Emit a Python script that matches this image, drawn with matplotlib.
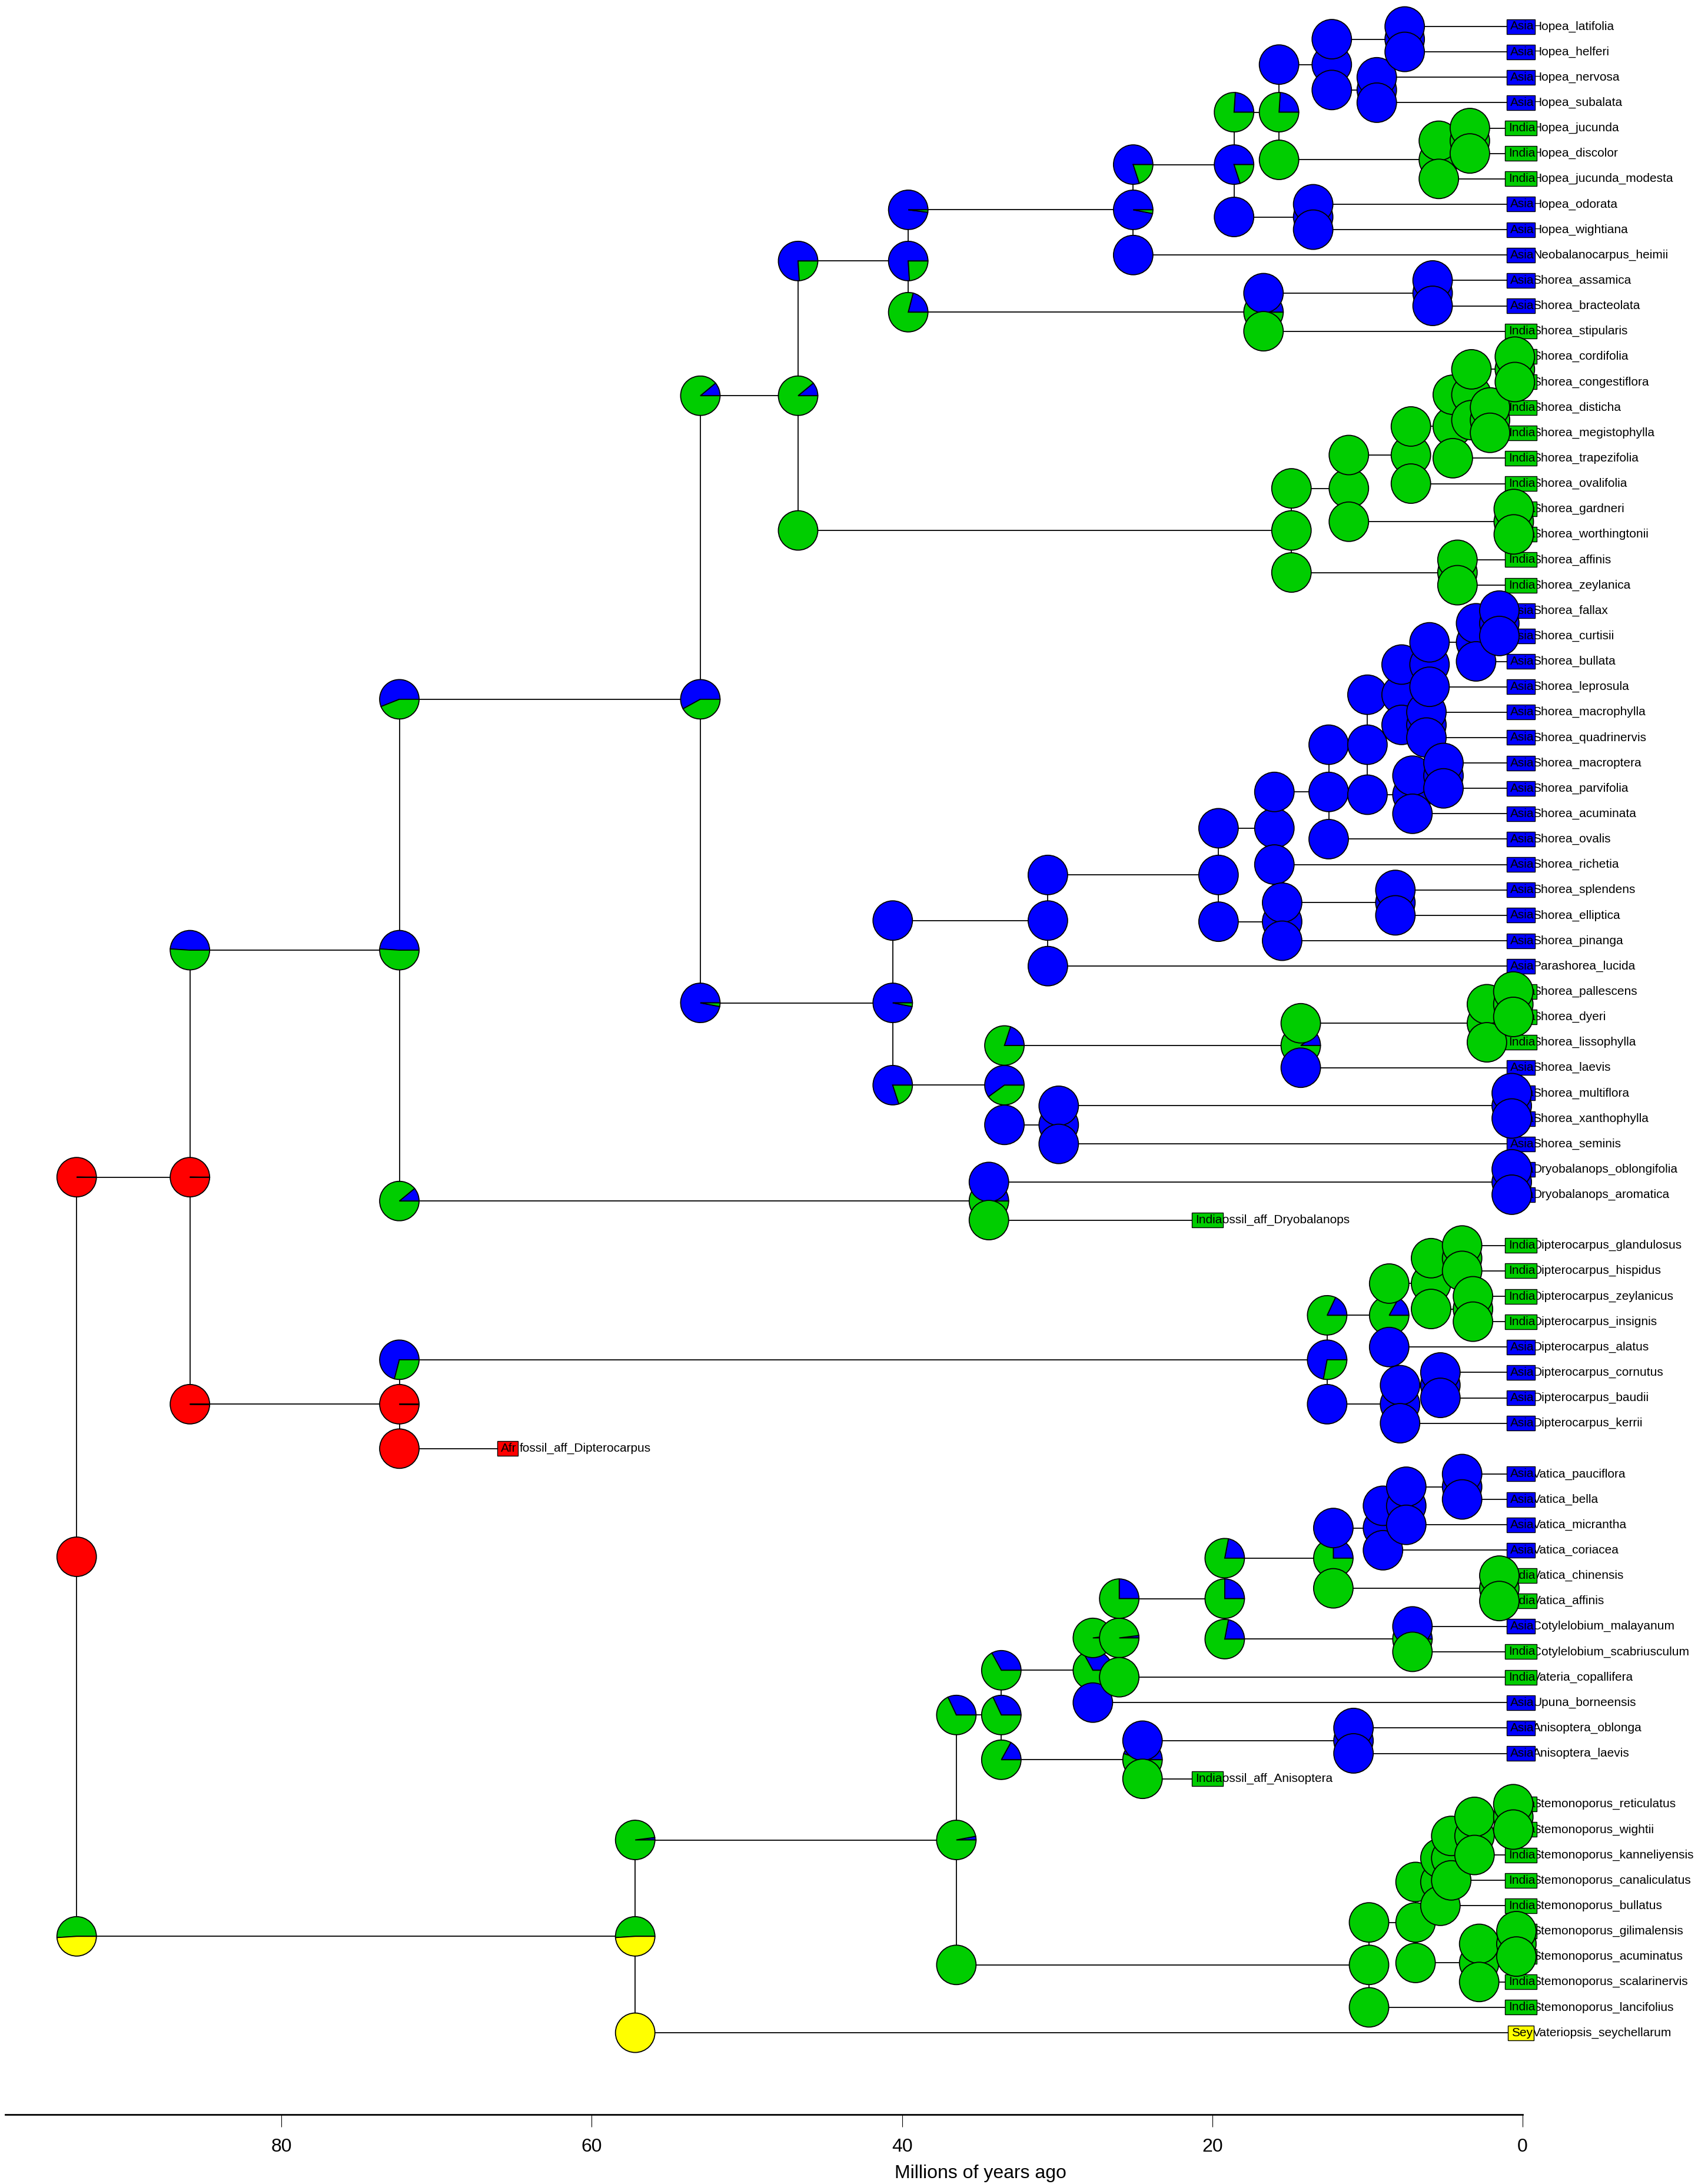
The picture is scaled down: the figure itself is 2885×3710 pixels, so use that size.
import matplotlib
matplotlib.use("Agg")
import matplotlib.pyplot as plt
from matplotlib.patches import Wedge, Circle, Rectangle
from matplotlib.transforms import ScaledTranslation, offset_copy

plt.rcParams["font.family"] = ["Liberation Sans", "DejaVu Sans"]

# areas, in the slice order used by the pies
areas = ["Afr", "Asia", "India", "Sey"]
area_colors = ["#FF0000", "#0000FF", "#00CD00", "#FFFF00"]

# tips from top to bottom
tip_names = [
    "Hopea_latifolia", "Hopea_helferi", "Hopea_nervosa", "Hopea_subalata",
    "Hopea_jucunda", "Hopea_discolor", "Hopea_jucunda_modesta", "Hopea_odorata",
    "Hopea_wightiana", "Neobalanocarpus_heimii", "Shorea_assamica", "Shorea_bracteolata",
    "Shorea_stipularis", "Shorea_cordifolia", "Shorea_congestiflora", "Shorea_disticha",
    "Shorea_megistophylla", "Shorea_trapezifolia", "Shorea_ovalifolia", "Shorea_gardneri",
    "Shorea_worthingtonii", "Shorea_affinis", "Shorea_zeylanica", "Shorea_fallax",
    "Shorea_curtisii", "Shorea_bullata", "Shorea_leprosula", "Shorea_macrophylla",
    "Shorea_quadrinervis", "Shorea_macroptera", "Shorea_parvifolia", "Shorea_acuminata",
    "Shorea_ovalis", "Shorea_richetia", "Shorea_splendens", "Shorea_elliptica",
    "Shorea_pinanga", "Parashorea_lucida", "Shorea_pallescens", "Shorea_dyeri",
    "Shorea_lissophylla", "Shorea_laevis", "Shorea_multiflora", "Shorea_xanthophylla",
    "Shorea_seminis", "Dryobalanops_oblongifolia", "Dryobalanops_aromatica", "fossil_aff_Dryobalanops",
    "Dipterocarpus_glandulosus", "Dipterocarpus_hispidus", "Dipterocarpus_zeylanicus", "Dipterocarpus_insignis",
    "Dipterocarpus_alatus", "Dipterocarpus_cornutus", "Dipterocarpus_baudii", "Dipterocarpus_kerrii",
    "fossil_aff_Dipterocarpus", "Vatica_pauciflora", "Vatica_bella", "Vatica_micrantha",
    "Vatica_coriacea", "Vatica_chinensis", "Vatica_affinis", "Cotylelobium_malayanum",
    "Cotylelobium_scabriusculum", "Vateria_copallifera", "Upuna_borneensis", "Anisoptera_oblonga",
    "Anisoptera_laevis", "fossil_aff_Anisoptera", "Stemonoporus_reticulatus", "Stemonoporus_wightii",
    "Stemonoporus_kanneliyensis", "Stemonoporus_canaliculatus", "Stemonoporus_bullatus", "Stemonoporus_gilimalensis",
    "Stemonoporus_acuminatus", "Stemonoporus_scalarinervis", "Stemonoporus_lancifolius", "Vateriopsis_seychellarum",
]
tip_areas = (["Asia"] * 4 + ["India"] * 3 + ["Asia"] * 5 + ["India"] * 11 + ["Asia"] * 15
             + ["India"] * 3 + ["Asia"] * 6 + ["India"] * 5 + ["Asia"] * 4 + ["Afr"]
             + ["Asia"] * 4 + ["India"] * 2 + ["Asia"] + ["India"] * 2 + ["Asia"] * 3
             + ["India"] * 10 + ["Sey"])

# fossil tips sit above the present (Ma)
fossil_ages = {"fossil_aff_Dryobalanops": 20.2, "fossil_aff_Dipterocarpus": 65.3,
               "fossil_aff_Anisoptera": 20.2}

# node ages (Ma)
node_age = {
    "root": 93.2, "A85": 85.9, "C72": 72.4, "E53": 53.0, "G47": 46.7, "I40": 39.6,
    "K25": 25.1, "M19": 18.6, "N16": 15.7, "P12": 12.3, "R8": 7.6, "S9": 9.4,
    "Q5": 5.4, "T3": 3.4, "O14": 13.5, "L17": 16.7, "U6": 5.8, "J15": 14.9,
    "V11": 11.2, "X7": 7.2, "Z4": 4.5, "AA3": 3.3, "AB05": 0.5, "AC2": 2.1,
    "Y06": 0.57, "W4": 4.2, "H41": 40.6, "AD31": 30.6, "AF20": 19.6, "AG16": 16.0,
    "AI12": 12.5, "AJ10": 10.0, "AK8": 7.8, "AM6": 6.0, "AO3": 3.0, "AP1": 1.5,
    "AN6": 6.2, "AL7": 7.1, "AQ5": 5.1, "AH15": 15.5, "AR8": 8.2, "AE33": 33.4,
    "AS14": 14.3, "AU2": 2.3, "AV06": 0.6, "AT30": 29.9, "AW07": 0.7, "F34": 34.4,
    "AX07": 0.7, "D72": 72.4, "AY13": 12.6, "AZ9": 8.6, "BB6": 5.9, "BC4": 3.9,
    "BD3": 3.2, "BA8": 7.9, "BE5": 5.3, "B57": 57.2, "BF37": 36.5, "BG34": 33.6,
    "BI28": 27.7, "BK26": 26.0, "BL19": 19.2, "BM12": 12.2, "BO9": 9.0, "BQ8": 7.5,
    "BR4": 3.9, "BP2": 1.5, "BN7": 7.1, "BJ25": 24.5, "BS11": 10.9, "BH10": 9.9,
    "BT7": 6.9, "BU5": 5.3, "BW5": 4.6, "BX3": 3.1, "BY06": 0.6, "BV3": 2.8,
    "BZ04": 0.4,
}

# (upper daughter, lower daughter)
node_kids = {
    "root": ("A85", "B57"), "A85": ("C72", "D72"), "C72": ("E53", "F34"),
    "E53": ("G47", "H41"), "G47": ("I40", "J15"), "I40": ("K25", "L17"),
    "K25": ("M19", "Neobalanocarpus_heimii"), "M19": ("N16", "O14"), "N16": ("P12", "Q5"),
    "P12": ("R8", "S9"), "R8": ("Hopea_latifolia", "Hopea_helferi"),
    "S9": ("Hopea_nervosa", "Hopea_subalata"), "Q5": ("T3", "Hopea_jucunda_modesta"),
    "T3": ("Hopea_jucunda", "Hopea_discolor"), "O14": ("Hopea_odorata", "Hopea_wightiana"),
    "L17": ("U6", "Shorea_stipularis"), "U6": ("Shorea_assamica", "Shorea_bracteolata"),
    "J15": ("V11", "W4"), "V11": ("X7", "Y06"), "X7": ("Z4", "Shorea_ovalifolia"),
    "Z4": ("AA3", "Shorea_trapezifolia"), "AA3": ("AB05", "AC2"),
    "AB05": ("Shorea_cordifolia", "Shorea_congestiflora"),
    "AC2": ("Shorea_disticha", "Shorea_megistophylla"),
    "Y06": ("Shorea_gardneri", "Shorea_worthingtonii"), "W4": ("Shorea_affinis", "Shorea_zeylanica"),
    "H41": ("AD31", "AE33"), "AD31": ("AF20", "Parashorea_lucida"), "AF20": ("AG16", "AH15"),
    "AG16": ("AI12", "Shorea_richetia"), "AI12": ("AJ10", "Shorea_ovalis"), "AJ10": ("AK8", "AL7"),
    "AK8": ("AM6", "AN6"), "AM6": ("AO3", "Shorea_leprosula"), "AO3": ("AP1", "Shorea_bullata"),
    "AP1": ("Shorea_fallax", "Shorea_curtisii"), "AN6": ("Shorea_macrophylla", "Shorea_quadrinervis"),
    "AL7": ("AQ5", "Shorea_acuminata"), "AQ5": ("Shorea_macroptera", "Shorea_parvifolia"),
    "AH15": ("AR8", "Shorea_pinanga"), "AR8": ("Shorea_splendens", "Shorea_elliptica"),
    "AE33": ("AS14", "AT30"), "AS14": ("AU2", "Shorea_laevis"), "AU2": ("AV06", "Shorea_lissophylla"),
    "AV06": ("Shorea_pallescens", "Shorea_dyeri"), "AT30": ("AW07", "Shorea_seminis"),
    "AW07": ("Shorea_multiflora", "Shorea_xanthophylla"), "F34": ("AX07", "fossil_aff_Dryobalanops"),
    "AX07": ("Dryobalanops_oblongifolia", "Dryobalanops_aromatica"),
    "D72": ("AY13", "fossil_aff_Dipterocarpus"), "AY13": ("AZ9", "BA8"),
    "AZ9": ("BB6", "Dipterocarpus_alatus"), "BB6": ("BC4", "BD3"),
    "BC4": ("Dipterocarpus_glandulosus", "Dipterocarpus_hispidus"),
    "BD3": ("Dipterocarpus_zeylanicus", "Dipterocarpus_insignis"),
    "BA8": ("BE5", "Dipterocarpus_kerrii"), "BE5": ("Dipterocarpus_cornutus", "Dipterocarpus_baudii"),
    "B57": ("BF37", "Vateriopsis_seychellarum"), "BF37": ("BG34", "BH10"), "BG34": ("BI28", "BJ25"),
    "BI28": ("BK26", "Upuna_borneensis"), "BK26": ("BL19", "Vateria_copallifera"),
    "BL19": ("BM12", "BN7"), "BM12": ("BO9", "BP2"), "BO9": ("BQ8", "Vatica_coriacea"),
    "BQ8": ("BR4", "Vatica_micrantha"), "BR4": ("Vatica_pauciflora", "Vatica_bella"),
    "BP2": ("Vatica_chinensis", "Vatica_affinis"),
    "BN7": ("Cotylelobium_malayanum", "Cotylelobium_scabriusculum"),
    "BJ25": ("BS11", "fossil_aff_Anisoptera"), "BS11": ("Anisoptera_oblonga", "Anisoptera_laevis"),
    "BH10": ("BT7", "Stemonoporus_lancifolius"), "BT7": ("BU5", "BV3"),
    "BU5": ("BW5", "Stemonoporus_bullatus"), "BW5": ("BX3", "Stemonoporus_canaliculatus"),
    "BX3": ("BY06", "Stemonoporus_kanneliyensis"),
    "BY06": ("Stemonoporus_reticulatus", "Stemonoporus_wightii"),
    "BV3": ("BZ04", "Stemonoporus_scalarinervis"),
    "BZ04": ("Stemonoporus_gilimalensis", "Stemonoporus_acuminatus"),
}

# state probabilities (Afr, Asia, India, Sey)
AF = (1, 0, 0, 0)
AFx = (0.998, 0.002, 0, 0)
AS = (0, 1, 0, 0)
IN = (0, 0, 1, 0)
SE = (0, 0, 0, 1)

# probabilities at the node itself
node_pie = {
    "root": AF, "A85": AFx, "C72": (0, .49, .51, 0), "E53": (0, .58, .42, 0),
    "G47": (0, .11, .89, 0), "I40": (0, .76, .24, 0), "K25": (0, .97, .03, 0),
    "M19": (0, .80, .20, 0), "N16": (0, .24, .76, 0), "L17": (0, .30, .70, 0),
    "H41": (0, .97, .03, 0), "AE33": (0, .60, .40, 0), "AS14": (0, .10, .90, 0),
    "F34": (0, .30, .70, 0), "D72": AFx, "AY13": (0, .72, .28, 0), "AZ9": (0, .17, .83, 0),
    "B57": (0, 0, .51, .49), "BF37": (0, .03, .97, 0), "BG34": (0, .32, .68, 0),
    "BI28": (0, .33, .67, 0), "BK26": (0, .02, .98, 0), "BL19": (0, .25, .75, 0),
    "BM12": (0, .25, .75, 0), "BN7": (0, .40, .60, 0), "BJ25": (0, .45, .55, 0),
}
# probabilities just after the split, on the upper / lower daughter branch
upper_pie = {
    "root": AFx, "A85": (0, .49, .51, 0), "C72": (0, .56, .44, 0), "E53": (0, .11, .89, 0),
    "G47": (0, .76, .24, 0), "I40": (0, .98, .02, 0), "K25": (0, .80, .20, 0),
    "M19": (0, .24, .76, 0), "N16": AS, "H41": AS, "AE33": (0, .20, .80, 0), "AS14": IN,
    "F34": AS, "D72": (0, .71, .29, 0), "AY13": (0, .18, .82, 0), "AZ9": IN,
    "B57": (0, .02, .98, 0), "BF37": (0, .32, .68, 0), "BG34": (0, .33, .67, 0),
    "BI28": (0, .02, .98, 0), "BK26": (0, .25, .75, 0), "BL19": (0, .22, .78, 0),
    "BM12": AS, "BN7": AS, "BJ25": AS, "L17": AS,
}
lower_pie = {
    "root": (0, 0, .51, .49), "A85": AFx, "C72": (0, .11, .89, 0), "E53": (0, .97, .03, 0),
    "G47": IN, "I40": (0, .21, .79, 0), "K25": AS, "M19": AS, "N16": IN, "H41": (0, .80, .20, 0),
    "AE33": AS, "AS14": AS, "F34": IN, "D72": AF, "AY13": AS, "AZ9": AS, "B57": SE,
    "BF37": IN, "BG34": (0, .17, .83, 0), "BI28": AS, "BK26": IN, "BL19": (0, .22, .78, 0),
    "BM12": IN, "BN7": IN, "BJ25": IN, "L17": IN,
}
# clades whose pies are all a single area
asia_nodes = ["P12", "R8", "S9", "O14", "U6", "AD31", "AF20", "AG16", "AI12", "AJ10", "AK8",
              "AM6", "AO3", "AP1", "AN6", "AL7", "AQ5", "AH15", "AR8", "AT30", "AW07", "AX07",
              "BA8", "BE5", "BO9", "BQ8", "BR4", "BS11"]
india_nodes = ["Q5", "T3", "J15", "V11", "X7", "Z4", "AA3", "AB05", "AC2", "Y06", "W4", "AU2",
               "AV06", "BB6", "BC4", "BD3", "BP2", "BH10", "BT7", "BU5", "BW5", "BX3", "BY06",
               "BV3", "BZ04"]

# canvas geometry: pixels of the 2885 x 3710 canvas
W, H, DPI = 2885, 3710, 100
X0_PX, PX_PER_MA = 2587, 26.36
Y1_PX, PX_PER_TIP = 45, 43.14
AXIS_PX = 3592
PIE_R = 33.5 / DPI
LW = 1.3

fig = plt.figure(figsize=(W / DPI, H / DPI), dpi=DPI)
ax = fig.add_axes([0, (H - AXIS_PX) / H, 1, AXIS_PX / H])
ax.set_xlim(-X0_PX / PX_PER_MA, (W - X0_PX) / PX_PER_MA)
ax.set_ylim(1 + (AXIS_PX - Y1_PX) / PX_PER_TIP, 1 - Y1_PX / PX_PER_TIP)

for n in asia_nodes:
    node_pie.setdefault(n, AS); upper_pie.setdefault(n, AS); lower_pie.setdefault(n, AS)
for n in india_nodes:
    node_pie.setdefault(n, IN); upper_pie.setdefault(n, IN); lower_pie.setdefault(n, IN)

xpos, ypos = {}, {}
for i, name in enumerate(tip_names):
    xpos[name] = -fossil_ages.get(name, 0.0)
    ypos[name] = i + 1


def place(n):
    if n in ypos:
        return ypos[n]
    a, b = node_kids[n]
    ypos[n] = (place(a) + place(b)) / 2
    xpos[n] = -node_age[n]
    return ypos[n]


place("root")


def at(x, y):
    return fig.dpi_scale_trans + ScaledTranslation(x, y, ax.transData)


def draw_pie(x, y, probs, z):
    tr = at(x, y)
    parts = [(p, c) for p, c in zip(probs, area_colors) if p > 0]
    if len(parts) == 1:
        ax.add_artist(Circle((0, 0), PIE_R, facecolor=parts[0][1], edgecolor="black",
                             lw=LW, transform=tr, zorder=z))
        return
    theta = 0.0
    for p, c in parts:
        ax.add_artist(Wedge((0, 0), PIE_R, theta, theta + 360 * p, facecolor=c,
                            edgecolor="black", lw=LW, transform=tr, zorder=z))
        theta += 360 * p


# branches
for n, (a, b) in node_kids.items():
    x = xpos[n]
    ax.plot([x, x], [ypos[a], ypos[b]], color="black", lw=LW, zorder=1)
    for k in (a, b):
        ax.plot([x, xpos[k]], [ypos[k], ypos[k]], color="black", lw=LW, zorder=1)

# pies, oldest first so younger ones sit on top
order = sorted(node_kids, key=lambda n: -node_age[n])
for i, n in enumerate(order):
    a, b = node_kids[n]
    z = 10 + i * 0.01
    draw_pie(xpos[n], ypos[n], node_pie[n], z)
    draw_pie(xpos[n], ypos[a], upper_pie[n], z + 0.003)
    draw_pie(xpos[n], ypos[b], lower_pie[n], z + 0.006)

# tip labels with area boxes
renderer = fig.canvas.get_renderer()
box_h = 25 / DPI
for name, area in zip(tip_names, tip_areas):
    x, y = xpos[name], ypos[name]
    ax.text(x, y, name, fontsize=15, va="center", ha="left", zorder=2,
            transform=offset_copy(ax.transData, fig=fig, x=17, y=0, units="dots"))
    t = ax.text(x, y, area, fontsize=15, va="center", ha="center", zorder=4,
                transform=offset_copy(ax.transData, fig=fig, x=-1, y=0, units="dots"))
    w = (t.get_window_extent(renderer).width + 8) / DPI
    ax.add_artist(Rectangle((-w / 2 - 0.03, -box_h / 2), w, box_h, transform=at(x, y),
                            facecolor=area_colors[areas.index(area)], edgecolor="black",
                            lw=1.0, zorder=3))

# time axis
for s in ("top", "right", "left"):
    ax.spines[s].set_visible(False)
ax.spines["bottom"].set_bounds(-97.8, 0)
ax.spines["bottom"].set_linewidth(2.0)
ticks = [80, 60, 40, 20, 0]
ax.set_xticks([-t for t in ticks])
ax.set_xticklabels([str(t) for t in ticks], fontsize=23)
ax.tick_params(axis="x", direction="out", length=15, width=0.8, pad=14)
ax.set_yticks([])
ax.set_xlabel("Millions of years ago", fontsize=23)
ax.xaxis.set_label_coords(0.5775, -0.0278)
ax.xaxis.label.set_va("center")

fig.savefig("out.png", dpi=DPI)
